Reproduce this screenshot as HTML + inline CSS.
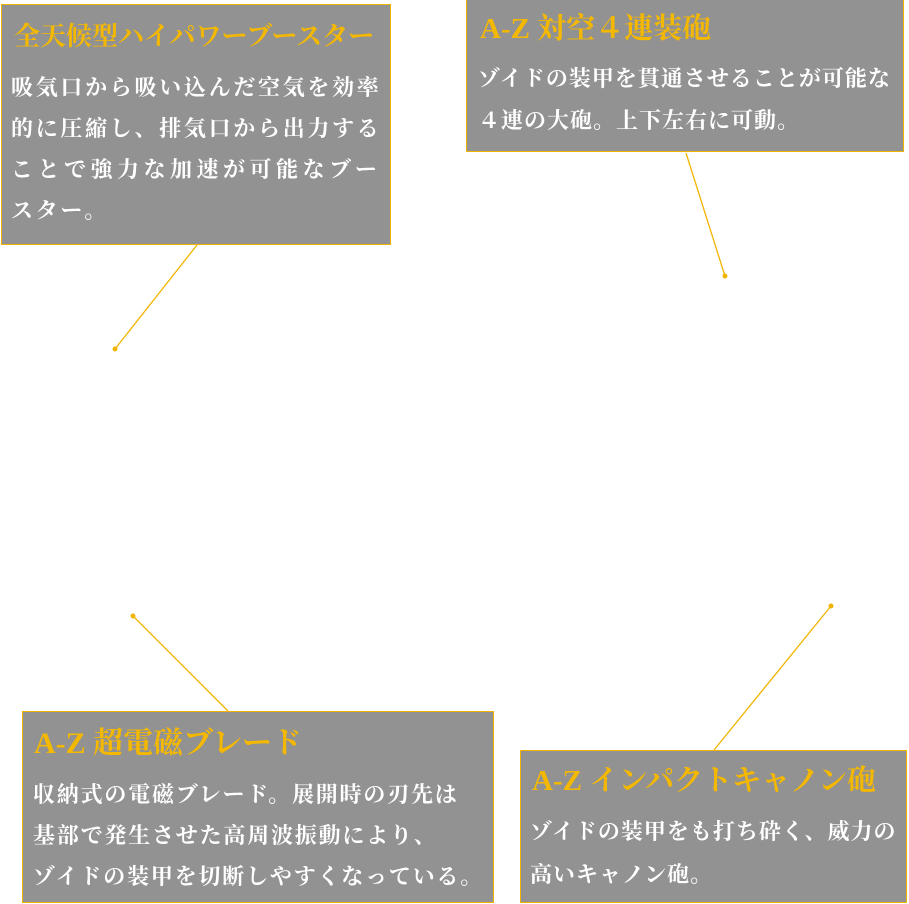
<!DOCTYPE html>
<html><head><meta charset="utf-8"><style>
body{margin:0;width:909px;height:904px;background:#fff;position:relative;overflow:hidden;font-family:"Liberation Serif","Noto Serif CJK SC",serif;font-weight:bold}
.b{position:absolute;background:#929292;border:1.5px solid #f0b400;box-sizing:border-box;color:#fff}
.t{position:absolute;color:#f5b800;font-size:27px;white-space:nowrap;line-height:1}
.p{position:absolute;font-size:22px;white-space:nowrap;letter-spacing:1px}
svg{position:absolute;left:0;top:0}
</style></head><body>
<svg width="909" height="904"><g stroke="#f0b400" stroke-width="1.3" fill="#f0b400">
<line x1="197" y1="245" x2="115" y2="349"/><circle cx="115" cy="349" r="1.8"/>
<line x1="686" y1="153" x2="725" y2="276"/><circle cx="725" cy="276" r="1.8"/>
<line x1="133" y1="616" x2="228" y2="711"/><circle cx="133" cy="616" r="1.8"/>
<line x1="831" y1="606" x2="714" y2="750"/><circle cx="831" cy="606" r="1.8"/>
</g></svg>
<div class="b" style="left:1px;top:4px;width:390px;height:241px">
<div class="t" style="left:12px;top:19px;font-size:26px">全天候型ハイパワーブースター</div>
<div class="p" style="left:9px;top:62px;line-height:41px;letter-spacing:2.7px">吸気口から吸い込んだ空気を効率<br>的に圧縮し、排気口から出力する<br><span style="letter-spacing:4.5px">ことで強力な加速が可能なブー</span><br>スター。</div>
</div>
<div class="b" style="left:466px;top:-2px;width:438px;height:154px">
<div class="t" style="left:13px;top:16px;font-size:29px">A-Z 対空４連装砲</div>
<div class="p" style="left:11px;top:59px;line-height:42px">ゾイドの装甲を貫通させることが可能な<br>４連の大砲。上下左右に可動。</div>
</div>
<div class="b" style="left:22px;top:711px;width:472px;height:192px">
<div class="t" style="left:11px;top:17px;font-size:30px">A-Z 超電磁ブレード</div>
<div class="p" style="left:10px;top:62px;line-height:41px;letter-spacing:1.8px">収納式の電磁ブレード。展開時の刃先は<br>基部で発生させた高周波振動により、<br>ゾイドの装甲を切断しやすくなっている。</div>
</div>
<div class="b" style="left:520px;top:750px;width:387px;height:153px">
<div class="t" style="left:11px;top:16px;font-size:29px">A-Z インパクトキャノン砲</div>
<div class="p" style="left:9px;top:59px;line-height:43px">ゾイドの装甲をも打ち砕く、威力の<br>高いキャノン砲。</div>
</div>
</body></html>
